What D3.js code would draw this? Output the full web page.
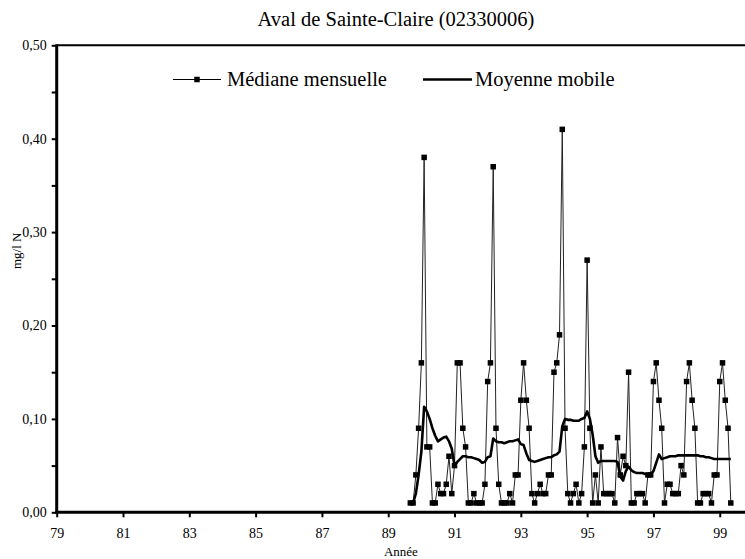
<!DOCTYPE html>
<html>
<head>
<meta charset="utf-8">
<script src="https://cdn.jsdelivr.net/npm/d3@7"></script>
<style>
  body { margin: 0; background: #fff; }
  svg { display: block; }
  svg text { font-family: "Liberation Serif", "Times New Roman", Tinos, serif !important; fill: #000; }
</style>
</head>
<body>
<svg id="chart" width="745" height="559"></svg>
<script>
// Labels
const chartTitle = "Aval de Sainte-Claire (02330006)";
const yTitle = "mg/l N";
const xTitle = "Année";
const seriesNames = ["Médiane mensuelle", "Moyenne mobile"];

// Axis ticks
const yearTicks = [79, 81, 83, 85, 87, 89, 91, 93, 95, 97, 99];
const yMajorTicks = [0, 0.1, 0.2, 0.3, 0.4, 0.5];
const yMinorTicks = [0.05, 0.15, 0.25, 0.35, 0.45];

// Monthly series, first month = September 1989 (year 89 + 8/12)
const startYear = 89;
const startMonthOffset = 8;

// Monthly median (mg/l N)
const medianValues = [
  0.01, 0.01, 0.04, 0.09, 0.16, 0.38, 0.07, 0.07, 0.01, 0.01,
  0.03, 0.02, 0.02, 0.03, 0.06, 0.02, 0.05, 0.16, 0.16, 0.09,
  0.07, 0.01, 0.01, 0.02, 0.01, 0.01, 0.01, 0.03, 0.14, 0.16,
  0.37, 0.09, 0.03, 0.01, 0.01, 0.01, 0.02, 0.01, 0.04, 0.04,
  0.12, 0.16, 0.12, 0.09, 0.02, 0.01, 0.02, 0.03, 0.02, 0.02,
  0.04, 0.04, 0.15, 0.16, 0.19, 0.41, 0.09, 0.02, 0.01, 0.02,
  0.03, 0.01, 0.02, 0.07, 0.27, 0.09, 0.01, 0.04, 0.01, 0.07,
  0.02, 0.02, 0.02, 0.02, 0.01, 0.08, 0.04, 0.06, 0.05, 0.15,
  0.01, 0.01, 0.02, 0.02, 0.02, 0.01, 0.04, 0.04, 0.14, 0.16,
  0.12, 0.09, 0.01, 0.03, 0.03, 0.02, 0.02, 0.02, 0.05, 0.04,
  0.14, 0.16, 0.12, 0.09, 0.01, 0.01, 0.02, 0.02, 0.02, 0.01,
  0.04, 0.04, 0.14, 0.16, 0.12, 0.09, 0.01
];

// Moving average (mg/l N)
const movingAverage = [
  0.010, 0.010, 0.020, 0.040, 0.065, 0.113, 0.108, 0.100, 0.090, 0.082,
  0.076, 0.078, 0.080, 0.081, 0.076, 0.068, 0.050, 0.054, 0.057, 0.060,
  0.060, 0.059, 0.059, 0.058, 0.057, 0.056, 0.053, 0.054, 0.059, 0.060,
  0.079, 0.076, 0.075, 0.075, 0.074, 0.075, 0.076, 0.076, 0.077, 0.078,
  0.073, 0.072, 0.063, 0.056, 0.055, 0.054, 0.055, 0.056, 0.057, 0.058,
  0.059, 0.059, 0.061, 0.062, 0.065, 0.092, 0.100, 0.099, 0.099, 0.098,
  0.098, 0.098, 0.100, 0.101, 0.108, 0.100, 0.083, 0.060, 0.053, 0.055,
  0.055, 0.055, 0.055, 0.055, 0.055, 0.054, 0.038, 0.034, 0.044, 0.049,
  0.045, 0.043, 0.042, 0.042, 0.042, 0.041, 0.041, 0.041, 0.044, 0.053,
  0.062, 0.057, 0.058, 0.059, 0.060, 0.060, 0.060, 0.061, 0.061, 0.061,
  0.061, 0.061, 0.061, 0.061, 0.061, 0.060, 0.060, 0.059, 0.059, 0.058,
  0.057, 0.057, 0.057, 0.057, 0.057, 0.057, 0.057
];

const monthYear = i => startYear + (startMonthOffset + i) / 12;
const medianPoints = medianValues.map((v, i) => ({ t: monthYear(i), v }));
const averagePoints = movingAverage.map((v, i) => ({ t: monthYear(i), v }));

const svg = d3.select("#chart");
const serif = '"Liberation Serif", "Times New Roman", Tinos, serif';

const x = d3.scaleLinear().domain([79, 100]).range([56.7, 752.9]);
const y = d3.scaleLinear().domain([0, 0.5]).range([512.3, 45.3]);
const commaFormat = d => d3.format(".2f")(d).replace(".", ",");

// Title
svg.append("text")
  .attr("x", 396).attr("y", 26)
  .attr("text-anchor", "middle")
  .attr("font-family", serif)
  .style("font-size", "20.5px")
  .text(chartTitle);

// Y axis: labelled major ticks and unlabelled minor ticks
const yAxis = svg.append("g")
  .attr("transform", `translate(${x(79)},0)`)
  .call(d3.axisLeft(y).tickValues(yMajorTicks).tickFormat(commaFormat).tickSize(5).tickPadding(5));
yAxis.append("g")
  .call(d3.axisLeft(y).tickValues(yMinorTicks).tickFormat("").tickSize(5));
yAxis.attr("font-family", serif);
yAxis.selectAll(".domain").remove();
yAxis.selectAll(".tick line").attr("stroke", "#000").attr("stroke-width", 2);
yAxis.selectAll(".tick text").style("font-size", "14px");

// X axis
const xAxis = svg.append("g")
  .attr("transform", `translate(0,${y(0)})`)
  .call(d3.axisBottom(x).tickValues(yearTicks).tickFormat(d3.format("02d")).tickSize(5).tickPadding(11));
xAxis.attr("font-family", serif);
xAxis.select(".domain").remove();
xAxis.selectAll(".tick line").attr("stroke", "#000").attr("stroke-width", 2);
xAxis.selectAll(".tick text").style("font-size", "14px");

// Frame: left and bottom axis lines, top edge
svg.append("line")
  .attr("x1", x(79)).attr("x2", x(79))
  .attr("y1", y(0.5) - 1).attr("y2", y(0) + 1.5)
  .attr("stroke", "#000").attr("stroke-width", 3);
svg.append("line")
  .attr("x1", x(79) - 1.5).attr("x2", x(100))
  .attr("y1", y(0)).attr("y2", y(0))
  .attr("stroke", "#000").attr("stroke-width", 3);
svg.append("line")
  .attr("x1", x(79)).attr("x2", x(100))
  .attr("y1", y(0.5)).attr("y2", y(0.5))
  .attr("stroke", "#000").attr("stroke-width", 2);

// Axis titles
svg.append("text")
  .attr("transform", `translate(21,${y(0.28)}) rotate(-90)`)
  .attr("text-anchor", "middle")
  .attr("font-family", serif)
  .style("font-size", "13px")
  .text(yTitle);
svg.append("text")
  .attr("x", (x(79) + 745) / 2).attr("y", 556)
  .attr("text-anchor", "middle")
  .attr("font-family", serif)
  .style("font-size", "13px")
  .text(xTitle);

// Monthly median line with square markers
const line = d3.line().x(d => x(d.t)).y(d => y(d.v));
svg.append("path")
  .datum(medianPoints)
  .attr("d", line)
  .attr("fill", "none")
  .attr("stroke", "#222")
  .attr("stroke-width", 1);

const markerSize = 5.5;
svg.append("g").selectAll("rect")
  .data(medianPoints)
  .join("rect")
  .attr("x", d => x(d.t) - markerSize / 2)
  .attr("y", d => y(d.v) - markerSize / 2)
  .attr("width", markerSize)
  .attr("height", markerSize)
  .attr("fill", "#000");

// Moving average line
svg.append("path")
  .datum(averagePoints)
  .attr("d", line)
  .attr("fill", "none")
  .attr("stroke", "#000")
  .attr("stroke-width", 2.6)
  .attr("stroke-linejoin", "round");

// Legend
const legendY = 79.5;
const legend = svg.append("g").attr("font-family", serif);
legend.append("line")
  .attr("x1", 173).attr("x2", 221).attr("y1", legendY).attr("y2", legendY)
  .attr("stroke", "#000").attr("stroke-width", 1);
legend.append("rect")
  .attr("x", 197 - markerSize / 2).attr("y", legendY - markerSize / 2)
  .attr("width", markerSize).attr("height", markerSize).attr("fill", "#000");
legend.append("text")
  .attr("x", 227).attr("y", 86)
  .style("font-size", "20.5px")
  .text(seriesNames[0]);
legend.append("line")
  .attr("x1", 423).attr("x2", 472).attr("y1", legendY).attr("y2", legendY)
  .attr("stroke", "#000").attr("stroke-width", 2.6);
legend.append("text")
  .attr("x", 475).attr("y", 86)
  .style("font-size", "20.5px")
  .text(seriesNames[1]);
</script>
</body>
</html>
